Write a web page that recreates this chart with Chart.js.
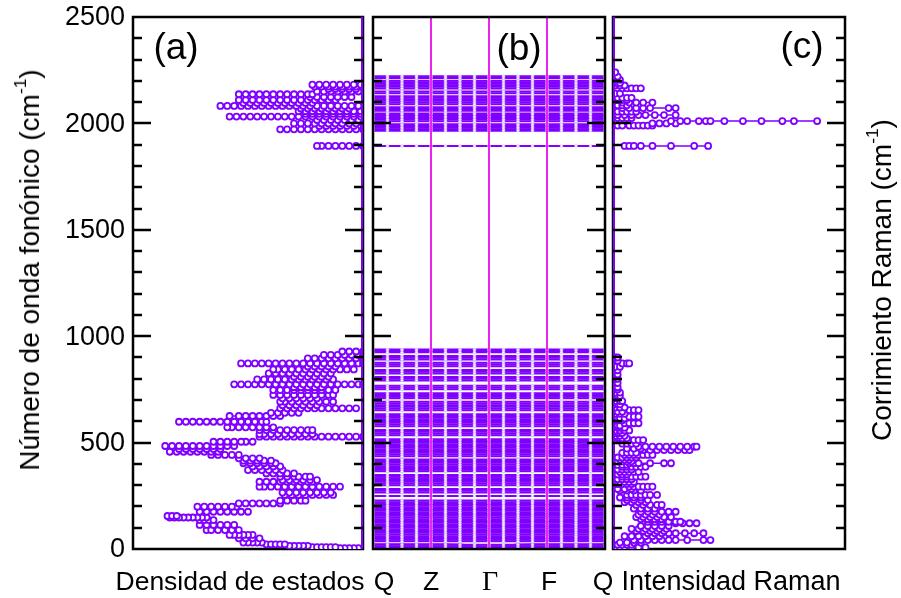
<!DOCTYPE html>
<html><head><meta charset="utf-8">
<script src="https://cdn.jsdelivr.net/npm/chart.js@4/dist/chart.umd.min.js"></script>
<style>
html,body{margin:0;padding:0;background:#fff;}
#wrap{position:relative;width:901px;height:598px;overflow:hidden;font-family:"Liberation Sans",Arial,sans-serif;color:#000;}
canvas{position:absolute;left:0;top:0;}
.lbl{position:absolute;white-space:nowrap;transform:translate(-50%,-50%);line-height:1;}
.rot{transform:translate(-50%,-50%) rotate(-90deg);}
sup{font-size:62%;vertical-align:0.75em;line-height:0;}
</style></head><body>
<div id="wrap">
<canvas id="cA" width="901" height="598"></canvas>
<canvas id="cB" width="901" height="598"></canvas>
<canvas id="cC" width="901" height="598"></canvas>
<div class="lbl rot" style="left:30px;top:270px;font-size:28px">Número de onda fonónico (cm<sup>-1</sup>)</div>
<div class="lbl rot" style="left:882px;top:280px;font-size:28px">Corrimiento Raman (cm<sup>-1</sup>)</div>
<div class="lbl" style="left:176px;top:46px;font-size:37px">(a)</div>
<div class="lbl" style="left:519px;top:47px;font-size:37px">(b)</div>
<div class="lbl" style="left:802px;top:45px;font-size:37px">(c)</div>
<div class="lbl" style="left:240px;top:581px;font-size:26.5px">Densidad de estados</div>
<div class="lbl" style="left:384px;top:581px;font-size:26.5px">Q</div>
<div class="lbl" style="left:431px;top:581px;font-size:26.5px">Z</div>
<div class="lbl" style="left:490px;top:581px;font-size:28px;font-family:'Liberation Serif',serif">Γ</div>
<div class="lbl" style="left:549px;top:581px;font-size:26.5px">F</div>
<div class="lbl" style="left:603px;top:581px;font-size:26.5px">Q</div>
<div class="lbl" style="left:731px;top:581px;font-size:27px">Intensidad Raman</div>
</div>
<script>
// ---------- data ----------
const yMajorTicks = [0, 500, 1000, 1500, 2000, 2500];
const yTickLabels = ['0', '500', '1000', '1500', '2000', '2500'];
const yMinorStep = 100;

const kPoints = [0,0.25,0.5,0.75,1,1.25,1.5,1.75,2,2.25,2.5,2.75,3,3.25,3.5,3.75,4];
const kSymmetry = [0, 1, 2, 3, 4];
const kLabels = ['Q', 'Z', 'Γ', 'F', 'Q'];

// DOS rows: [frequency, [DOS values along the row]]
const dosRowsLow = [
 [4,[0,2,4,6,8,10]],[9,[22,20,18,16,14,12]],[15,[24,26,28,30,32]],[22,[42,40,38,36,34]],
 [30,[44,46,48,50,52]],[50,[54,51,48,45]],[66,[48,50,52,54,56,58]],[89,[68,66,63,60,57,54]],
 [113,[56,59,62,65,68,71]],[136,[71,69,67,65]],[148,[68,70,72,74,76,78,80,82,84]],[155,[85,83,81]],
 [175,[71,68,65,62,59,56,53,50]],[199,[55,57,60,63,66,69,72]],[214,[54,51,48,45,42,39,36]],
 [227,[36,33,30,27,25]],[254,[13,16,19,22,25,28,31,34]],[265,[35,32,29,26,23,20,17,14]],
 [293,[10,13,16,19,22,25,28,31,34,37,40,43,45]],[316,[45,42,39,36,33,30,27,24,22]],
 [324,[20,23,26,29,32,35]],[340,[36,33,30,28,25,23]],[355,[30,33,36,39,42]],[371,[35,38,41,44,47,50]],
 [388,[48,45,42,39,36]],[403,[52,49,46,43,40,38]],[415,[40,43,46,49,52]],[426,[45,48,51,54]],
 [442,[66,63,60,57,54]],[457,[63,66,69,72,75,78,81,84]],[470,[80,77,74,71,68,65,62]],
 [484,[86,83,80,77,74,71,68,65,62,59,56]],
 [504,[48,51,53,56,59,62,65]],[528,[45,42,39,36,33,30,27,24,21,18,15,12,9,6,3,0]],
 [540,[22,25,28,31,34,37,40,43,45]],[559,[45,42,39,36,33,30,27,24,22]],
 [572,[39,42,45,48,51,54,57,59]],[598,[80,77,74,71,68,65,62,59,56,53,50,47,44,42]],
 [625,[36,39,42,45,48,51,54,58]],[640,[40,37,34,31,28]],[661,[36,33,30,27,24,21,18,15,12,9,6,3]],
 [676,[20,23,26,29,32,35]],[692,[13,16,19,22,25,28,31,34,36]],[708,[35,32,29,26,23,20]],
 [724,[39,36,33,30,27,24,21,18,15,13]],
 [747,[12,15,18,21,24,27,30,33,36,39]],[760,[30,27,24,21,18]],
 [774,[56,53,50,47,44,41,38,35,32,29,26,23,20,17,14,11,8,5,2,0]],
 [797,[13,16,19,22,25,28,31,34,37,40,43,46]],[810,[30,27,24,21,18,15]],[825,[41,38,35,32,29,26,23,20,17,14]],
 [844,[4,7,10,13,16,19,22,25,28,31,34,37,39]],[858,[24,21,18,15,12]],
 [872,[53,50,47,44,41,38,35,32,29,26,23,20,17,14,11,8,5,2,0]],
 [896,[0,3,6,9,12,15,18,21,24]],[912,[17,14,11,8,5,2,0]],[928,[0,3,6,9]]
];
const dosRowsHigh = [
 [1894,[0,3,6,9,12,15,18,20]],[1972,[36,33,30,27,24,21,18,15,12,9,6,3,0]],
 [1988,[4,7,10,13,16,19]],
 [2000,[0,3,6,9,12,15,18,21,24,27,30]],[2016,[20,17,14,11,8,5,2]],
 [2032,[58,55,52,49,46,43,40,37,34,31,28,25,22,19,16,13,10,7,4,1]],
 [2045,[1,4,7,10,13,16,19,22,25]],[2057,[28,25,22,19,16,13,10,7,4,1]],
 [2070,[6,9,12,15,18,21,24,27]],
 [2082,[62,59,56,53,50,47,44,41,38,35,32,29,26,23,20,17,14,11,8,5,2]],
 [2096,[22,25,28,31,34,37,40,43,46,49,52]],
 [2110,[54,51,48,45,42,39,36,33,30,27,24,21,18,15,12]],[2124,[5,8,11,14,17,20,23]],
 [2137,[54,51,48,45,42,39,36,33,30,27,24,22]],[2150,[20,17,14,11,8,5,2]],
 [2162,[3,6,9,12,15]],[2173,[0,3,6,9,12,15,18,21]],[2182,[22,19,16,13,10,7,4,1]]
];

// Raman rows: [Raman shift, [intensities along the row]]
const ramanRowsLow = [
 [8,[1,3,5,8,11,14]],[20,[2,4,6,8]],[30,[3,6,9,12]],[42,[9,12,15,18,21,24,27,32,39,42]],[60,[5,8,11,14,17,20]],
 [74,[15,18,21,24,27,31,35,39]],[85,[10,13,16,19,22]],[95,[8,11,14,17,20,23]],[108,[12,15,18,21,24]],[121,[27,30,33,36]],
 [128,[15,18,21,24,27,29]],[140,[12,15,18,21]],[150,[10,13,16,19,22,25]],[162,[11,14,17,20]],[175,[12,15,18,21,24,27]],
 [190,[9,12,15,18]],[207,[10,13,16,19,21]],[220,[5,8,11,14]],[230,[6,9,12,15]],[242,[3,6,9,12]],[254,[6,8,10,12,14,16,19]],[275,[3,6,9,12]],
 [282,[2,5,8]],[293,[7,9,11,13,15,17]],[305,[2,4,6,8]],[315,[3,5,7,9]],[328,[2,4,6,8]],[340,[4,6,8,10,12,14]],[350,[2,4,6]],[362,[3,5,7,9,11]],
 [374,[2,4,6,8]],[386,[4,6,8,10,12,14]],[395,[2,4,6]],[403,[7,9,11,16,22,25]],[412,[2,4,6,8]],[420,[3,5,7]],[430,[2,4,6,8,10]],[442,[5,7,9,11,13,15,17]],
 [452,[4,6,8,10]],[465,[13,16,19,22,25,28,31,33]],[472,[6,9,12]],[481,[11,14,17,20,23,26,29,32,35,36]],[495,[4,6,8,10]],[512,[7,9,11,13]],
 [520,[2,3,4,6]],[532,[1,3,5]],[545,[1,2,3,4]],[557,[1,3,5,7]],[570,[2,3,4,5]],[580,[1,2,3]],[591,[5,7,9,11]],[605,[2,3,4]],
 [614,[1,2,3,5]],[622,[7,9,11]],[635,[1,3,5]],[645,[2,4]],[653,[7,9,11]],[665,[1,3,5]],[680,[1,2,3]],[695,[1,3,4]],[710,[1,2]],[720,[1,2,3]],
 [735,[1,3]],[750,[1,2]],[760,[1,2]],[780,[1,2]],[800,[1,2]],[820,[1,2]],[840,[1,2]],[856,[1,3]],[872,[4,6,7]],[885,[1,2]],[900,[1,2]]
];
const ramanRowsHigh = [
 [1894,[5,7,9,12,17,25,35,41]],[1990,[2,4,7,9,11,13,15,17]],[2000,[17,20,23,27]],
 [2011,[25,29,32,37,40,42,48,56,64,73,78,88]],[2025,[2,4,6,8]],
 [2039,[2,5,8,11,14,18,22,27]],[2055,[2,4,6,8,10]],[2072,[4,7,10,13,16,24,27]],
 [2085,[2,4,6]],[2098,[4,7,10,13,17]],[2110,[2,4,6]],[2120,[2,4,6,8]],[2140,[1,3]],[2165,[4,6,8,10,12]],
 [2178,[1,3,5]],[2190,[1,2,3]],[2205,[1,3]],[2220,[1,2]],[2240,[1]]
];

// phonon band frequencies (flat branches)
const bandFreqsLow = [6,13,20,36,44,52,60,68,76,84,92,100,108,116,124,132,140,148,156,164,172,180,188,196,
 204,212,220,228,249,266,274,282,300,308,316,324,332,340,348,365,373,381,389,397,405,413,420,
 436,444,452,460,468,476,484,492,500,508,516,535,543,551,559,577,585,593,601,609,617,625,633,
 652,660,668,676,684,692,708,716,724,732,751,759,767,792,800,808,825,833,841,859,867,875,
 891,899,907,924,931,938];
const bandFreqsHigh = [1894,1966,1973,1980,1988,1996,2010,2018,2025,2032,2040,2047,2060,2068,2076,
 2090,2098,2106,2114,2121,2128,2142,2150,2164,2172,2179,2186,2193,2200,2213,2222];
const acousticBand = [22,22,22,22,22,22,21,14,0,14,21,22,22,22,22,22,22];

// ---------- styling ----------
const PURPLE = '#7f00ff';
const MAGENTA = '#ee22ee';

function rowsToPoints(rows) {
  const pts = [];
  rows.forEach(([f, vals]) => {
    vals.forEach(v => pts.push({x: v, y: f}));
    pts.push({x: null, y: null});
  });
  return pts;
}

function frameTicks(frameFirst, withLabels) {
  const frame = (chart) => {
    const {ctx, chartArea: a} = chart;
    ctx.save(); ctx.strokeStyle = '#000'; ctx.lineWidth = 2.5;
    ctx.strokeRect(a.left, a.top, a.right - a.left, a.bottom - a.top);
    ctx.restore();
  };
  const ticks = (chart) => {
    const {ctx, chartArea: a} = chart; const y = chart.scales.y;
    ctx.save(); ctx.strokeStyle = '#000'; ctx.lineWidth = 2.5; ctx.beginPath();
    for (let v = y.min + yMinorStep; v < y.max; v += yMinorStep) {
      const py = Math.round(y.getPixelForValue(v));
      const len = yMajorTicks.includes(v) ? 18 : 9;
      ctx.moveTo(a.left, py); ctx.lineTo(a.left + len, py);
      ctx.moveTo(a.right, py); ctx.lineTo(a.right - len, py);
    }
    ctx.stroke();
    if (withLabels) {
      ctx.fillStyle = '#000'; ctx.font = '27px "Liberation Sans", Arial, sans-serif';
      ctx.textAlign = 'right'; ctx.textBaseline = 'middle';
      yMajorTicks.forEach((v, i) => ctx.fillText(yTickLabels[i], a.left - 8, y.getPixelForValue(v) + 1));
    }
    ctx.restore();
  };
  return {
    id: 'frameTicks',
    beforeDatasetsDraw(c) { if (frameFirst) frame(c); },
    afterDatasetsDraw(c) { if (!frameFirst) frame(c); ticks(c); }
  };
}

const common = {
  responsive: false, animation: false, devicePixelRatio: 1, events: [],
  plugins: {legend: {display: false}, tooltip: {enabled: false}}
};
const yHidden = {type: 'linear', min: yMajorTicks[0], max: yMajorTicks[yMajorTicks.length - 1], display: false};

const markerStyle = {
  borderColor: PURPLE, borderWidth: 1.5, pointRadius: 3, pointBorderWidth: 1.8,
  pointBorderColor: PURPLE, pointBackgroundColor: '#ffffff', spanGaps: false
};

// Panel (a)
new Chart(document.getElementById('cA'), {
  type: 'line',
  data: {datasets: [
    {data: [{x: 0, y: 0}, {x: 0, y: 2500}], borderColor: PURPLE, borderWidth: 4, pointRadius: 0, order: -1},
    Object.assign({data: rowsToPoints(dosRowsLow.concat(dosRowsHigh))}, markerStyle)
  ]},
  options: Object.assign({}, common, {
    layout: {autoPadding: false, padding: {left: 133, top: 17, right: 538, bottom: 49}},
    scales: {x: {type: 'linear', min: 0, max: 100, reverse: true, display: false}, y: yHidden}
  }),
  plugins: [frameTicks(true, true)]
});

// Panel (b)
const bandDatasets = [];
kSymmetry.slice(1, -1).forEach(k => bandDatasets.push({
  data: [{x: k, y: 0}, {x: k, y: 2500}], borderColor: MAGENTA, borderWidth: 2, pointRadius: 0, order: -1
}));
const bandStyle = {borderColor: PURPLE, borderWidth: 2, pointRadius: 1.3, pointBorderWidth: 0.8,
  pointBorderColor: '#dcc0ff', pointBackgroundColor: '#ffffff'};
bandFreqsLow.concat(bandFreqsHigh).forEach(f => bandDatasets.push(Object.assign(
  {data: kPoints.map(k => ({x: k, y: f}))}, bandStyle)));
bandDatasets.push(Object.assign({data: kPoints.map((k, i) => ({x: k, y: acousticBand[i]}))}, bandStyle));

new Chart(document.getElementById('cB'), {
  type: 'line',
  data: {datasets: bandDatasets},
  options: Object.assign({}, common, {
    layout: {autoPadding: false, padding: {left: 373, top: 17, right: 296, bottom: 49}},
    scales: {x: {type: 'linear', min: kSymmetry[0], max: kSymmetry[kSymmetry.length - 1], display: false}, y: yHidden}
  }),
  plugins: [frameTicks(false, false)]
});

// Panel (c)
new Chart(document.getElementById('cC'), {
  type: 'line',
  data: {datasets: [
    {data: [{x: 0, y: 0}, {x: 0, y: 2500}], borderColor: PURPLE, borderWidth: 4, pointRadius: 0, order: -1},
    Object.assign({data: rowsToPoints(ramanRowsLow.concat(ramanRowsHigh))}, markerStyle)
  ]},
  options: Object.assign({}, common, {
    layout: {autoPadding: false, padding: {left: 613, top: 17, right: 56, bottom: 49}},
    scales: {x: {type: 'linear', min: 0, max: 100, display: false}, y: yHidden}
  }),
  plugins: [frameTicks(true, false)]
});
</script>
</body></html>
